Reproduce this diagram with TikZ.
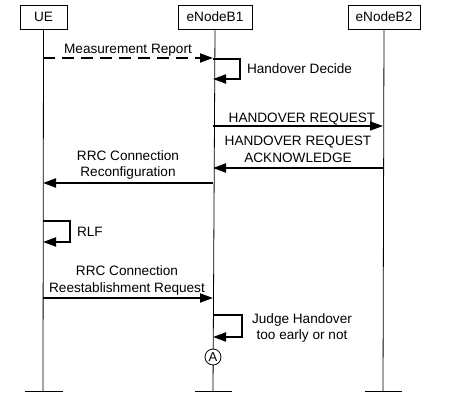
\documentclass[tikz,border=0pt]{standalone}
\usepackage{fontspec}
\setmainfont{Liberation Sans}
\usetikzlibrary{arrows.meta}
\begin{document}
\begin{tikzpicture}[x=1pt,y=-1pt,
  font=\fontsize{13.6}{16.5}\selectfont,
  every node/.style={inner sep=0pt, outer sep=0pt},
  entity/.style={draw, line width=0.8pt, minimum height=24pt, anchor=north west},
  life/.style={line width=0.8pt},
  msg/.style={line width=2pt, -{Triangle[length=13pt,width=9pt]}},
  thinmsg/.style={line width=1.5pt, -{Triangle[length=13pt,width=9pt]}},
  dashmsg/.style={line width=2pt, dash pattern=on 12pt off 7pt, -{Triangle[length=13pt,width=9pt]}},
  lbl/.style={anchor=base, align=center},
  lbll/.style={anchor=base west, align=left}]
\useasboundingbox (0,0) rectangle (473,401);
% entities
\node[entity, minimum width=47pt] (ue) at (20,5) {UE};
\node[entity, minimum width=74pt] (enb1) at (178,5) {eNodeB1};
\node[entity, minimum width=72pt] (enb2) at (348,5) {eNodeB2};
% lifeline ends
\coordinate (ueend) at (43,391);
\coordinate (e1end) at (213,391);
\coordinate (e2end) at (383,391);
\draw[life] (ue.south) -- (ueend);
\draw[life] (enb1.south) -- (e1end);
\draw[life] (enb2.south) -- (e2end);
\draw[life] ([xshift=-18pt]ueend) -- ([xshift=20pt]ueend);
\draw[life] ([xshift=-18pt]e1end) -- ([xshift=19pt]e1end);
\draw[life] ([xshift=-18pt]e2end) -- ([xshift=19pt]e2end);
% Measurement Report
\coordinate (m1a) at (43,58);
\coordinate (m1b) at (213,58);
\draw[dashmsg] (m1a) -- (m1b);
\node[lbl] (t1) at (128,53.5) {Measurement Report};
% Handover Decide
\coordinate (hd1) at (213,59);
\coordinate (hd2) at (240,79);
\draw[msg] (hd1) -- (hd1 -| hd2) -- (hd2) -- (hd2 -| hd1);
\node[lbll] (t2) at (247,74) {Handover Decide};
% HANDOVER REQUEST
\coordinate (hra) at (213,126);
\coordinate (hrb) at (383,126);
\draw[thinmsg] (hra) -- (hrb);
\node[lbl] (t3) at (302,122) {HANDOVER REQUEST};
% HANDOVER REQUEST ACKNOWLEDGE
\coordinate (haa) at (383,168);
\coordinate (hab) at (213,168);
\draw[msg] (haa) -- (hab);
\node[lbl] (t4) at (298,162) {HANDOVER REQUEST\\ACKNOWLEDGE};
% RRC Connection Reconfiguration
\coordinate (rca) at (213,183);
\coordinate (rcb) at (43,183);
\draw[msg] (rca) -- (rcb);
\node[lbl] (t5) at (128,176.5) {RRC Connection\\Reconfiguration};
% RLF
\coordinate (rl1) at (43,221);
\coordinate (rl2) at (70,242);
\draw[msg] (rl1) -- (rl1 -| rl2) -- (rl2) -- (rl2 -| rl1);
\node[lbll] (t6) at (77,236) {RLF};
% RRC Connection Reestablishment Request
\coordinate (rra) at (43,298);
\coordinate (rrb) at (213,298);
\draw[msg] (rra) -- (rrb);
\node[lbl] (t7) at (127,292) {RRC Connection\\Reestablishment Request};
% Judge Handover
\coordinate (jh1) at (213,315);
\coordinate (jh2) at (242,337);
\draw[msg] (jh1) -- (jh1 -| jh2) -- (jh2) -- (jh2 -| jh1);
\node[lbl] (t8) at (302,339.5) {Judge Handover\\too early or not};
% circle A
\node[draw, circle, fill=white, line width=0.8pt, minimum size=16pt, font=\fontsize{13}{13}\selectfont] (ca) at (213,357) {A};
\end{tikzpicture}
\end{document}
